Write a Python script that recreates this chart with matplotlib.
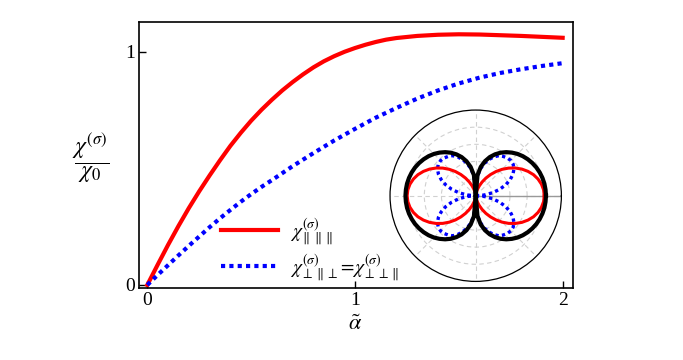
import matplotlib
matplotlib.use("Agg")
import matplotlib.pyplot as plt
import numpy as np

plt.rcParams['font.family'] = 'Liberation Serif'
plt.rcParams['mathtext.fontset'] = 'stix'

# main curves
alpha = [0.0, 0.05, 0.1, 0.15, 0.2, 0.25, 0.3, 0.35, 0.4, 0.45, 0.5, 0.55, 0.6,
         0.65, 0.7, 0.75, 0.8, 0.85, 0.9, 0.95, 1.0, 1.05, 1.1, 1.15, 1.2,
         1.3, 1.4, 1.5, 1.6, 1.7, 1.8, 1.9, 2.0]
chi_par = [0.0, 0.087, 0.172, 0.253, 0.330, 0.402, 0.470, 0.535, 0.597, 0.653,
           0.705, 0.752, 0.795, 0.835, 0.871, 0.904, 0.934, 0.960, 0.982, 1.001,
           1.017, 1.031, 1.043, 1.053, 1.060, 1.069, 1.074, 1.076, 1.075, 1.072,
           1.069, 1.065, 1.061]
chi_perp = [0.0, 0.043, 0.085, 0.127, 0.168, 0.208, 0.248, 0.286, 0.322, 0.357,
            0.39, 0.421, 0.45, 0.48, 0.51, 0.538, 0.566, 0.593, 0.62, 0.645,
            0.67, 0.694, 0.718, 0.739, 0.76, 0.80, 0.835, 0.865, 0.89, 0.91,
            0.926, 0.94, 0.952]

label_par = r'$\chi^{(\sigma)}_{\parallel\parallel\parallel}$'
label_perp = r'$\chi^{(\sigma)}_{\perp\parallel\perp}\!=\!\chi^{(\sigma)}_{\perp\perp\parallel}$'

# inset polar patterns, one quadrant (degrees), mirrored below
theta_q = [0, 5, 10, 15, 20, 25, 30, 35, 40, 45, 50, 55, 60, 65, 70, 75, 80, 85, 90]
r_black = [0.82, 0.818, 0.814, 0.806, 0.795, 0.781, 0.763, 0.742, 0.718, 0.690,
           0.657, 0.621, 0.580, 0.533, 0.480, 0.417, 0.342, 0.242, 0.0]
r_red = [0.80, 0.795, 0.779, 0.753, 0.718, 0.673, 0.622, 0.564, 0.502, 0.436,
         0.369, 0.302, 0.238, 0.177, 0.122, 0.075, 0.037, 0.011, 0.0]
r_blue = [0.0, 0.101, 0.198, 0.29, 0.373, 0.444, 0.502, 0.545, 0.571, 0.58,
          0.575, 0.56, 0.54, 0.50, 0.45, 0.39, 0.32, 0.225, 0.0]


def full_turn(th, r):
    th = np.array(th, dtype=float)
    r = np.array(r, dtype=float)
    t = np.concatenate([th, 180 - th[::-1], 180 + th, 360 - th[::-1]])
    rr = np.concatenate([r, r[::-1], r, r[::-1]])
    return np.deg2rad(t), rr


fig = plt.figure(figsize=(6.83, 3.6), dpi=100)
ax = fig.add_axes([0.2035, 0.2, 0.6355, 0.7397])

ax.plot(alpha, chi_par, color='red', lw=3, label=label_par)
ax.plot(alpha, chi_perp, color='blue', lw=3, ls=(0, (1, 1)),
        dash_capstyle='butt', label=label_perp)

ax.set_xlim(-0.04, 2.05)
ax.set_ylim(-0.013, 1.13)
ax.set_xticks([0, 1, 2])
ax.set_yticks([0, 1])
ax.tick_params(direction='in', length=5, width=1, labelsize=14, pad=3)
for s in ax.spines.values():
    s.set_linewidth(1.2)

ax.legend(loc='lower left', bbox_to_anchor=(0.19, 0.02), frameon=False,
          fontsize=14, handlelength=2.9, labelspacing=0.25, borderpad=0,
          borderaxespad=0, handletextpad=0.6)

fig.text(355 / 683, 1 - 325 / 360, r'$\tilde{\alpha}$', fontsize=16,
         ha='center', va='center')
fig.text(91 / 683, 1 - 158 / 360, r'$\dfrac{\chi^{(\sigma)}}{\chi_0}$',
         fontsize=17, ha='center', va='center')

# polar inset
axp = fig.add_axes([0.571, 0.2183, 0.251, 0.476], projection='polar')
axp.set_facecolor('white')
axp.set_ylim(0, 1)
axp.set_rticks([0.2, 0.4, 0.6, 0.8])
axp.set_yticklabels([])
axp.set_xticks(np.deg2rad(np.arange(0, 360, 45)))
axp.set_xticklabels([])
axp.grid(color='#d0d0d0', ls=(0, (4, 3)), lw=0.8)
axp.tick_params(axis='x', length=3, width=0.8, direction='in')
axp.spines['polar'].set_linewidth(0.9)
axp.plot([0, 0], [0, 1], color='#999999', lw=1)

t, r = full_turn(theta_q, r_blue)
axp.plot(t, r, color='blue', lw=2.4, ls=(0, (1, 1)), dash_capstyle='butt')
t, r = full_turn(theta_q, r_red)
axp.plot(t, r, color='red', lw=2.2)
t, r = full_turn(theta_q, r_black)
axp.plot(t, r, color='black', lw=3.0)

fig.savefig('out.png', dpi=100)
